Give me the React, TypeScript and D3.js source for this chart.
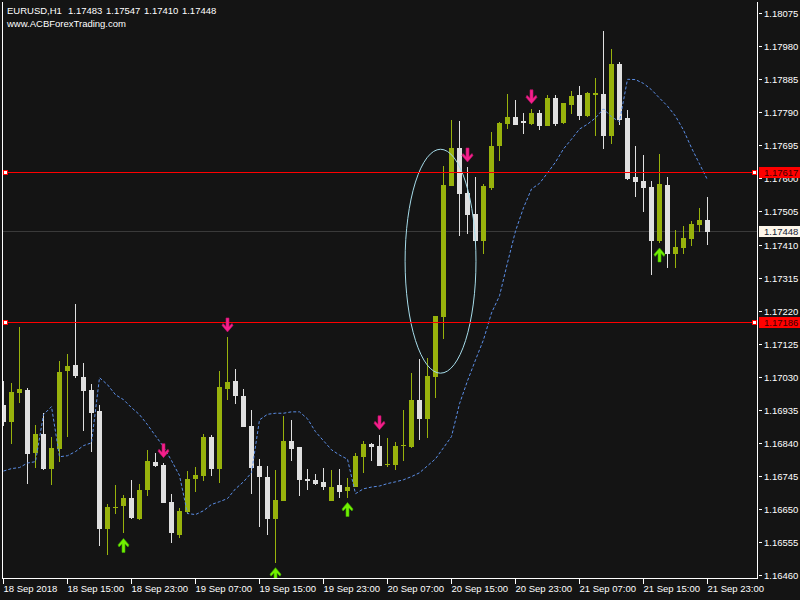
import React from "react";
import * as d3 from "d3";

// chart header
const symbol = "EURUSD,H1";
const website = "www.ACBForexTrading.com";

// one label every 8 bars (H1)
const timeLabels = [
  "18 Sep 2018", "18 Sep 15:00", "18 Sep 23:00", "19 Sep 07:00", "19 Sep 15:00", "19 Sep 23:00",
  "20 Sep 07:00", "20 Sep 15:00", "20 Sep 23:00", "21 Sep 07:00", "21 Sep 15:00", "21 Sep 23:00",
];

const priceTicks = [
  1.18075, 1.1798, 1.17885, 1.1779, 1.17695, 1.176, 1.17505, 1.1741, 1.17315,
  1.1722, 1.17125, 1.1703, 1.16935, 1.1684, 1.16745, 1.1665, 1.16555, 1.1646,
];

const opens = [
  1.16951, 1.16903, 1.16984, 1.16994, 1.16812, 1.16868, 1.16768, 1.16825, 1.17047, 1.17066,
  1.17032, 1.16994, 1.16934, 1.16594, 1.16657, 1.1666, 1.16685, 1.16624, 1.16706, 1.16788,
  1.16779, 1.16673, 1.16578, 1.16644, 1.16737, 1.16748, 1.1686, 1.16768, 1.16997, 1.1702,
  1.16977, 1.16891, 1.16776, 1.16745, 1.16622, 1.16676, 1.16848, 1.16831, 1.16739, 1.16736,
  1.1673, 1.16676, 1.16722, 1.16705, 1.16716, 1.16802, 1.1684, 1.16834, 1.16779, 1.16779,
  1.16834, 1.16831, 1.16966, 1.16911, 1.17032, 1.17204, 1.1758, 1.17689, 1.1756, 1.17499,
  1.17422, 1.17574, 1.17694, 1.17757, 1.17778, 1.17766, 1.17757, 1.17789, 1.17752, 1.17832,
  1.1776, 1.17812, 1.17841, 1.1778, 1.17841, 1.17844, 1.17723, 1.1793, 1.17775, 1.17605,
  1.17594, 1.17577, 1.17422, 1.17582, 1.17385, 1.17402, 1.17428, 1.17468, 1.17483,
];

const highs = [
  1.1702, 1.17014, 1.17175, 1.16999, 1.16894, 1.16928, 1.1686, 1.17078, 1.17098, 1.17241,
  1.17072, 1.17012, 1.16951, 1.16665, 1.16722, 1.16693, 1.16736, 1.16725, 1.16822, 1.16814,
  1.16785, 1.16696, 1.16655, 1.16762, 1.16774, 1.16868, 1.16865, 1.17049, 1.17146, 1.17055,
  1.16997, 1.16937, 1.16797, 1.16776, 1.16765, 1.1692, 1.16908, 1.16831, 1.16768, 1.16753,
  1.16771, 1.16765, 1.16768, 1.16742, 1.16814, 1.16848, 1.16842, 1.16865, 1.16857, 1.16845,
  1.16937, 1.17043, 1.17083, 1.17086, 1.17207, 1.17637, 1.17769, 1.17766, 1.17634, 1.17605,
  1.17585, 1.17735, 1.17763, 1.17844, 1.17826, 1.17789, 1.17801, 1.17798, 1.17841, 1.17841,
  1.17818, 1.17852, 1.17866, 1.17849, 1.17889, 1.18024, 1.17973, 1.17935, 1.17798, 1.17694,
  1.17669, 1.17594, 1.17671, 1.17605, 1.17453, 1.17465, 1.17479, 1.17517, 1.17547,
];

const lows = [
  1.16889, 1.1684, 1.16955, 1.16723, 1.16769, 1.16765, 1.1672, 1.16786, 1.16858, 1.17029,
  1.16875, 1.16815, 1.16545, 1.16519, 1.16637, 1.16582, 1.16622, 1.1662, 1.16688, 1.16772,
  1.16668, 1.16554, 1.16568, 1.16639, 1.16702, 1.16733, 1.16748, 1.16728, 1.16966, 1.16954,
  1.16888, 1.16696, 1.16601, 1.16576, 1.16498, 1.16676, 1.16791, 1.16688, 1.16708, 1.16722,
  1.16708, 1.16676, 1.16685, 1.16685, 1.16716, 1.16756, 1.16791, 1.16776, 1.16774, 1.16765,
  1.16791, 1.16828, 1.16851, 1.16857, 1.16972, 1.17141, 1.1758, 1.17436, 1.17442, 1.17416,
  1.17385, 1.17568, 1.17651, 1.17743, 1.17755, 1.17729, 1.17755, 1.1774, 1.17752, 1.17752,
  1.17757, 1.17786, 1.17769, 1.17778, 1.17723, 1.17686, 1.177, 1.17755, 1.17597, 1.17548,
  1.17505, 1.17324, 1.17416, 1.17344, 1.17344, 1.17385, 1.17408, 1.17448, 1.1741,
];

const closes = [
  1.16903, 1.16989, 1.16997, 1.16809, 1.16868, 1.16768, 1.16828, 1.17046, 1.17063, 1.17035,
  1.16992, 1.16928, 1.16594, 1.16659, 1.16659, 1.16685, 1.16627, 1.16708, 1.16791, 1.16776,
  1.16668, 1.16582, 1.16647, 1.16739, 1.16751, 1.1686, 1.16768, 1.17003, 1.17017, 1.16977,
  1.16888, 1.16771, 1.16745, 1.16622, 1.16679, 1.16848, 1.16825, 1.16736, 1.16733, 1.16725,
  1.16716, 1.16716, 1.16702, 1.16716, 1.16805, 1.1684, 1.16831, 1.16776, 1.16782, 1.16834,
  1.16837, 1.16966, 1.16911, 1.17035, 1.17207, 1.17582, 1.17689, 1.17557, 1.17496, 1.17422,
  1.1758, 1.17694, 1.1776, 1.17778, 1.17755, 1.1776, 1.17789, 1.17752, 1.17832, 1.17757,
  1.17818, 1.17838, 1.1778, 1.17846, 1.17846, 1.17723, 1.1793, 1.17769, 1.176, 1.17591,
  1.17574, 1.17422, 1.17585, 1.17385, 1.17405, 1.1743, 1.17471, 1.17482, 1.17448,
];

// dotted indicator line, one value per bar
const indicator = [
  1.16761, 1.16768, 1.16771, 1.16784, 1.16788, 1.16923, 1.16946, 1.16802, 1.16805, 1.16817,
  1.16834, 1.16842, 1.17029, 1.17009, 1.1698, 1.16966, 1.16943, 1.16923, 1.16894, 1.16862,
  1.16831, 1.16791, 1.16748, 1.16639, 1.16636, 1.16647, 1.16665, 1.16673, 1.16682, 1.1671,
  1.1673, 1.16756, 1.16908, 1.16924, 1.16927, 1.16927, 1.16931, 1.16931, 1.16911, 1.16874,
  1.16848, 1.16822, 1.16807, 1.16795, 1.16696, 1.1671, 1.16715, 1.16718, 1.16725, 1.1673,
  1.16736, 1.16745, 1.16756, 1.16776, 1.16796, 1.16828, 1.1686, 1.16954, 1.1702, 1.1708,
  1.17138, 1.17215, 1.17264, 1.17359, 1.1745, 1.17517, 1.17571, 1.17587, 1.17617, 1.17648,
  1.17686, 1.17714, 1.17743, 1.17757, 1.17775, 1.17801, 1.17778, 1.17764, 1.17886, 1.17885,
  1.17874, 1.17856, 1.17832, 1.17809, 1.1778, 1.1774, 1.17689, 1.17643, 1.17597,
];

const levels = [1.17617, 1.17186];
const sellSignals = [20, 28, 47, 58, 66];
const buySignals = [15, 34, 43, 82];
// ellipse drawn by hand on the chart: bar span and price span
const ellipseBars = [50.2, 59.06];
const ellipsePrices = [1.17685, 1.17042];

const FONT = "'Liberation Sans', Arial, sans-serif";
const BULL = "#98b20c";
const BEAR = "#e0e0e0";

const downArrow: [number, number][] = [
  [-1.5, 0], [1.5, 0], [1.5, 8.5], [4.5, 5.5], [5.5, 7.5], [0, 14], [-5.5, 7.5], [-4.5, 5.5], [-1.5, 8.5],
];

const App: React.FC = () => {
  const left = 3, right = 757, top = 3, bottom = 579;

  const x = d3.scaleLinear().domain([0, opens.length - 1]).range([3.5, 707.5]);
  const y = d3.scaleLinear().domain([1.16451, 1.18105]).range([bottom, top]);
  const fmt = d3.format(".5f");

  const line = d3
    .line<number>()
    .x((_, i) => x(i))
    .y((d) => y(d));

  const last = opens.length - 1;
  const ohlc = [opens[last], highs[last], lows[last], closes[last]].map(fmt).join(" ");
  const lastY = Math.floor(y(closes[last])) + 0.5;
  // level lines sit on the pixel row just above the rounded price position
  const levelY = (lv: number) => Math.round(y(lv)) - 0.5;

  const arrowPath = (cx: number, t: number, up: boolean) =>
    "M" + downArrow.map(([dx, dy]) => `${cx + dx},${up ? t + 14 - dy : t + dy}`).join("L") + "Z";

  const ex0 = x(ellipseBars[0]), ex1 = x(ellipseBars[1]);
  const ey0 = y(ellipsePrices[0]), ey1 = y(ellipsePrices[1]);

  return (
    <svg width={800} height={600} style={{ position: "absolute", left: 0, top: 0, display: "block" }}>
      <defs>
        <clipPath id="plot">
          <rect x={left} y={top} width={right - left} height={bottom - top} />
        </clipPath>
      </defs>
      <rect width={800} height={600} fill="#141414" />

      <g clipPath="url(#plot)">
        <line x1={left} x2={right} y1={lastY} y2={lastY} stroke="#3a3a3a" shapeRendering="crispEdges" />

        <g shapeRendering="crispEdges">
          {opens.map((o, i) => {
            const c = closes[i];
            const col = c >= o ? BULL : BEAR;
            const yTop = Math.round(y(Math.max(o, c)));
            const yBot = Math.round(y(Math.min(o, c)));
            return (
              <g key={i}>
                <line x1={x(i)} x2={x(i)} y1={Math.round(y(highs[i]))} y2={Math.round(y(lows[i]))} stroke={col} />
                <rect x={x(i) - 2.5} y={yTop} width={5} height={Math.max(1, yBot - yTop)} fill={col} />
              </g>
            );
          })}
        </g>

        <ellipse
          cx={(ex0 + ex1) / 2}
          cy={(ey0 + ey1) / 2}
          rx={(ex1 - ex0) / 2}
          ry={(ey1 - ey0) / 2}
          fill="none"
          stroke="#a6dcea"
        />

        <path d={line(indicator) || ""} fill="none" stroke="#5b8ee6" strokeDasharray="3,2" />

        {levels.map((lv) => {
          const ly = levelY(lv);
          return (
            <g key={lv} shapeRendering="crispEdges">
              <line x1={left} x2={right} y1={ly} y2={ly} stroke="#ff0000" />
              <rect x={left + 0.5} y={ly - 2} width={4} height={4} fill="#ffffff" stroke="#ff0000" />
              <rect x={right - 4.5} y={ly - 2} width={4} height={4} fill="#ffffff" stroke="#ff0000" />
            </g>
          );
        })}

        {sellSignals.map((i) => (
          <path key={"s" + i} d={arrowPath(x(i), y(highs[i]) - 19, false)} fill="#f5208c" stroke="#c0106a" strokeWidth={0.6} />
        ))}
        {buySignals.map((i) => (
          <path key={"b" + i} d={arrowPath(x(i), y(lows[i]) + 5, true)} fill="#72f000" stroke="#3fae00" strokeWidth={0.6} />
        ))}
      </g>

      {/* frame */}
      <g stroke="#ffffff" fill="none" shapeRendering="crispEdges">
        <line x1={2.5} x2={2.5} y1={2} y2={579} />
        <line x1={757.5} x2={757.5} y1={2} y2={579} />
        <line x1={2} x2={758} y1={578.5} y2={578.5} />
      </g>

      {/* price axis */}
      <g fontFamily={FONT} fontSize={9.5} fill="#ffffff">
        {priceTicks.map((p) => {
          const ty = Math.floor(y(p)) + 0.5;
          return (
            <g key={p}>
              <line x1={759} x2={762} y1={ty} y2={ty} stroke="#ffffff" shapeRendering="crispEdges" />
              <text x={764} y={ty + 3.5}>{fmt(p)}</text>
            </g>
          );
        })}
      </g>

      {levels.map((lv) => {
        const ly = levelY(lv);
        return (
          <g key={"lab" + lv}>
            <rect x={759} y={ly - 5.5} width={41} height={11} fill="#ff0000" />
            <text x={764} y={ly + 3.5} fontFamily={FONT} fontSize={9.5} fill="#3a0000">{fmt(lv)}</text>
          </g>
        );
      })}
      <rect x={759} y={lastY - 5.5} width={41} height={11} fill="#fdf6ea" />
      <text x={764} y={lastY + 3.5} fontFamily={FONT} fontSize={9.5} fill="#141a33">{fmt(closes[last])}</text>

      {/* time axis */}
      <g fontFamily={FONT} fontSize={9.5} fill="#ffffff">
        {timeLabels.map((t, k) => {
          const tx = x(k * 8);
          return (
            <g key={t}>
              <line x1={tx} x2={tx} y1={579} y2={584} stroke="#ffffff" shapeRendering="crispEdges" />
              <text x={tx} y={592}>{t}</text>
            </g>
          );
        })}
      </g>

      {/* header */}
      <g fontFamily={FONT} fontSize={9.5} fill="#ffffff">
        <text x={7} y={14}>{symbol}</text>
        <text x={68} y={14} wordSpacing={1}>{ohlc}</text>
        <text x={7} y={27}>{website}</text>
      </g>
    </svg>
  );
};

export default App;
